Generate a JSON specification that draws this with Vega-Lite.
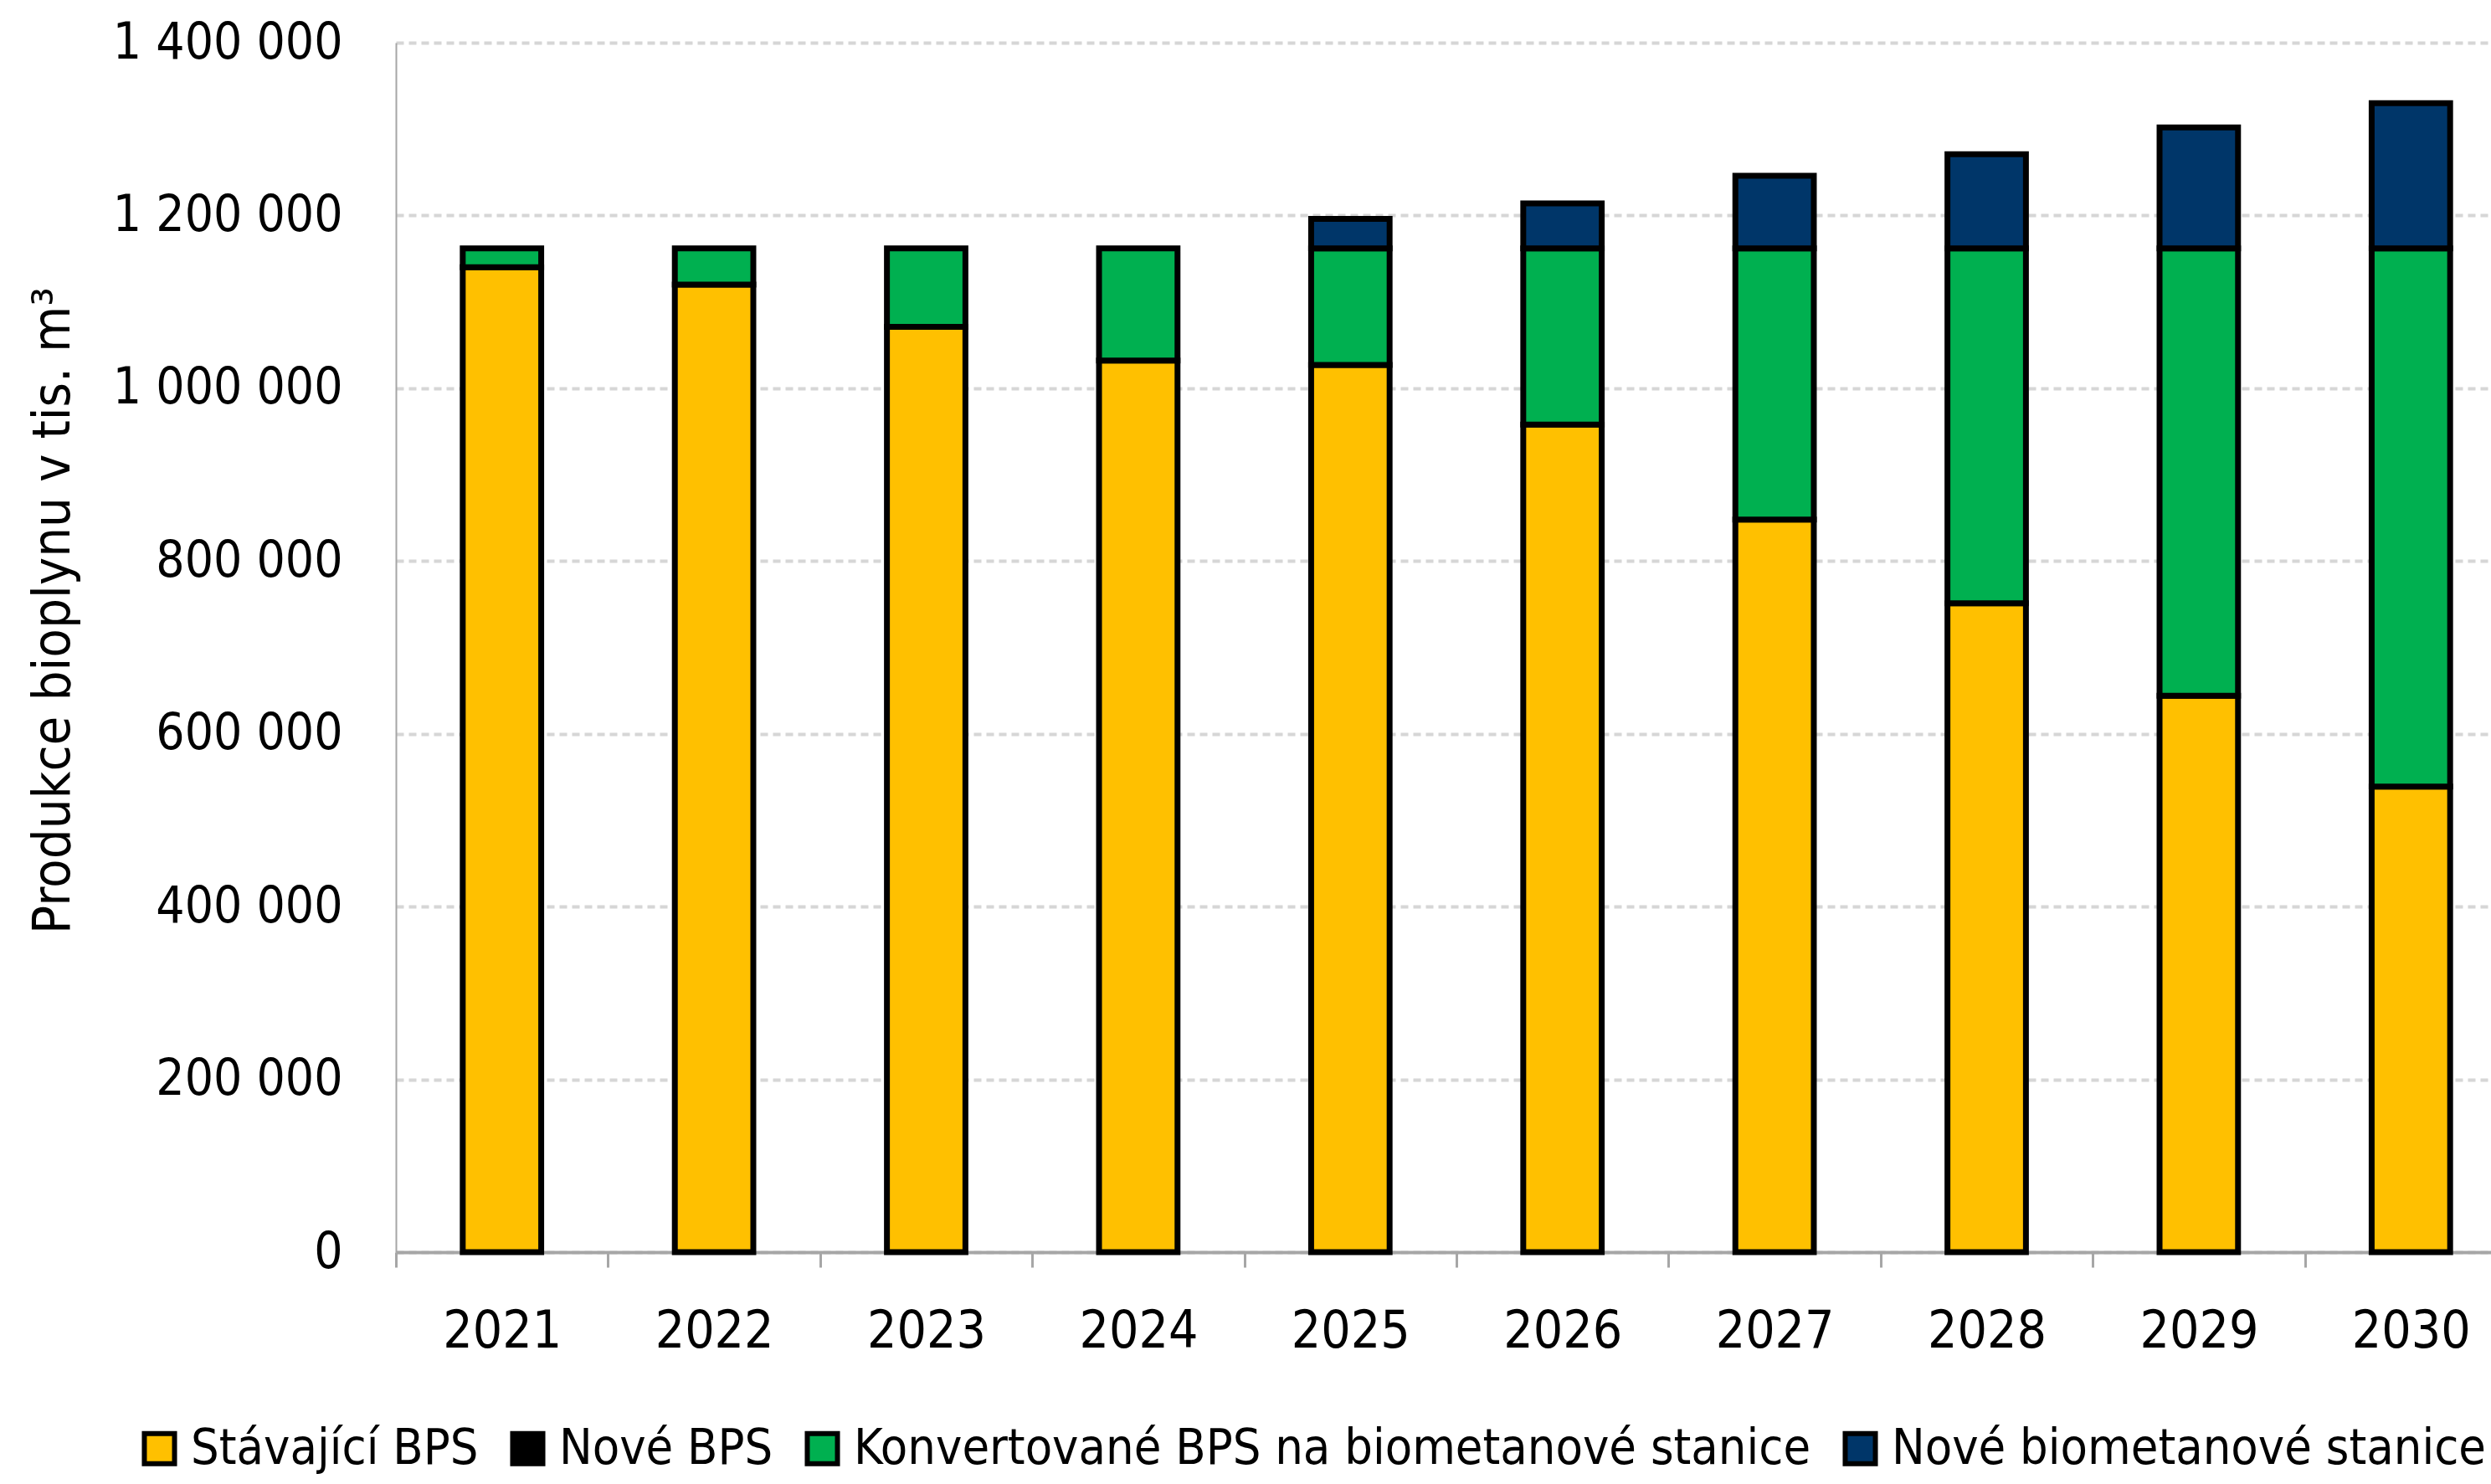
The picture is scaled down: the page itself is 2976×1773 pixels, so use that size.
{
  "$schema": "https://vega.github.io/schema/vega-lite/v6.json",
  "autosize": {"type": "none"},
  "padding": {"left": 473, "top": 51, "right": 0, "bottom": 277},
  "width": 2503,
  "height": 1445,
  "background": "white",
  "config": {
    "font": "Liberation Sans Narrow, DejaVu Sans Condensed, sans-serif",
    "view": {"stroke": null}
  },
  "data": {
    "values": [
      {"rok": "2021", "kategorie": "Stávající BPS", "hodnota": 1140000, "poradi": 1},
      {"rok": "2021", "kategorie": "Konvertované BPS na biometanové stanice", "hodnota": 22000, "poradi": 3},
      {"rok": "2022", "kategorie": "Stávající BPS", "hodnota": 1120000, "poradi": 1},
      {"rok": "2022", "kategorie": "Konvertované BPS na biometanové stanice", "hodnota": 42000, "poradi": 3},
      {"rok": "2023", "kategorie": "Stávající BPS", "hodnota": 1071000, "poradi": 1},
      {"rok": "2023", "kategorie": "Konvertované BPS na biometanové stanice", "hodnota": 91000, "poradi": 3},
      {"rok": "2024", "kategorie": "Stávající BPS", "hodnota": 1032000, "poradi": 1},
      {"rok": "2024", "kategorie": "Konvertované BPS na biometanové stanice", "hodnota": 130000, "poradi": 3},
      {"rok": "2025", "kategorie": "Stávající BPS", "hodnota": 1027000, "poradi": 1},
      {"rok": "2025", "kategorie": "Konvertované BPS na biometanové stanice", "hodnota": 135000, "poradi": 3},
      {"rok": "2025", "kategorie": "Nové biometanové stanice", "hodnota": 34000, "poradi": 4},
      {"rok": "2026", "kategorie": "Stávající BPS", "hodnota": 958000, "poradi": 1},
      {"rok": "2026", "kategorie": "Konvertované BPS na biometanové stanice", "hodnota": 204000, "poradi": 3},
      {"rok": "2026", "kategorie": "Nové biometanové stanice", "hodnota": 52000, "poradi": 4},
      {"rok": "2027", "kategorie": "Stávající BPS", "hodnota": 848000, "poradi": 1},
      {"rok": "2027", "kategorie": "Konvertované BPS na biometanové stanice", "hodnota": 314000, "poradi": 3},
      {"rok": "2027", "kategorie": "Nové biometanové stanice", "hodnota": 84000, "poradi": 4},
      {"rok": "2028", "kategorie": "Stávající BPS", "hodnota": 751000, "poradi": 1},
      {"rok": "2028", "kategorie": "Konvertované BPS na biometanové stanice", "hodnota": 411000, "poradi": 3},
      {"rok": "2028", "kategorie": "Nové biometanové stanice", "hodnota": 109000, "poradi": 4},
      {"rok": "2029", "kategorie": "Stávající BPS", "hodnota": 644000, "poradi": 1},
      {"rok": "2029", "kategorie": "Konvertované BPS na biometanové stanice", "hodnota": 518000, "poradi": 3},
      {"rok": "2029", "kategorie": "Nové biometanové stanice", "hodnota": 140000, "poradi": 4},
      {"rok": "2030", "kategorie": "Stávající BPS", "hodnota": 539000, "poradi": 1},
      {"rok": "2030", "kategorie": "Konvertované BPS na biometanové stanice", "hodnota": 623000, "poradi": 3},
      {"rok": "2030", "kategorie": "Nové biometanové stanice", "hodnota": 168000, "poradi": 4}
    ]
  },
  "mark": {"type": "bar", "stroke": "black", "strokeWidth": 7, "width": {"band": 0.37}},
  "encoding": {
    "x": {
      "field": "rok",
      "type": "ordinal",
      "scale": {"range": [0, 2534], "paddingInner": 0, "paddingOuter": 0},
      "axis": {
        "title": null,
        "labelAngle": 0,
        "labelFontSize": 62,
        "labelColor": "black",
        "labelPadding": 46,
        "tickBand": "extent",
        "ticks": true,
        "tickSize": 18,
        "tickColor": "#A6A6A6",
        "tickWidth": 3,
        "domainColor": "#A6A6A6",
        "domainWidth": 4,
        "grid": false
      }
    },
    "y": {
      "field": "hodnota",
      "type": "quantitative",
      "stack": "zero",
      "scale": {"domain": [0, 1400000], "nice": false},
      "axis": {
        "title": "Produkce bioplynu v tis. m³",
        "titleFontSize": 63,
        "titleFontWeight": "normal",
        "titleColor": "black",
        "titleX": -410,
        "titleY": 678,
        "titleAngle": -90,
        "titleAlign": "center",
        "titleBaseline": "middle",
        "values": [0, 200000, 400000, 600000, 800000, 1000000, 1200000, 1400000],
        "labelExpr": "replace(format(datum.value, ','), regexp(',', 'g'), ' ')",
        "labelFontSize": 60,
        "labelLimit": 1000,
        "labelColor": "black",
        "labelPadding": 64,
        "ticks": false,
        "domainColor": "#A6A6A6",
        "domainWidth": 2,
        "grid": true,
        "gridColor": "#D6D6D6",
        "gridWidth": 4,
        "gridDash": [9, 6]
      }
    },
    "color": {
      "field": "kategorie",
      "type": "nominal",
      "scale": {
        "domain": ["Stávající BPS", "Nové BPS", "Konvertované BPS na biometanové stanice", "Nové biometanové stanice"],
        "range": ["#FFC000", "#000000", "#00B050", "#003669"]
      },
      "legend": {
        "title": null,
        "orient": "none",
        "legendX": -312,
        "legendY": 1650,
        "direction": "horizontal",
        "symbolType": "square",
        "symbolSize": 1300,
        "symbolStrokeColor": "black",
        "symbolStrokeWidth": 6,
        "labelFontSize": 59,
        "labelColor": "black",
        "labelOffset": 8,
        "columnPadding": 28,
        "labelLimit": 2000
      }
    },
    "order": {"field": "poradi", "type": "quantitative"}
  }
}
